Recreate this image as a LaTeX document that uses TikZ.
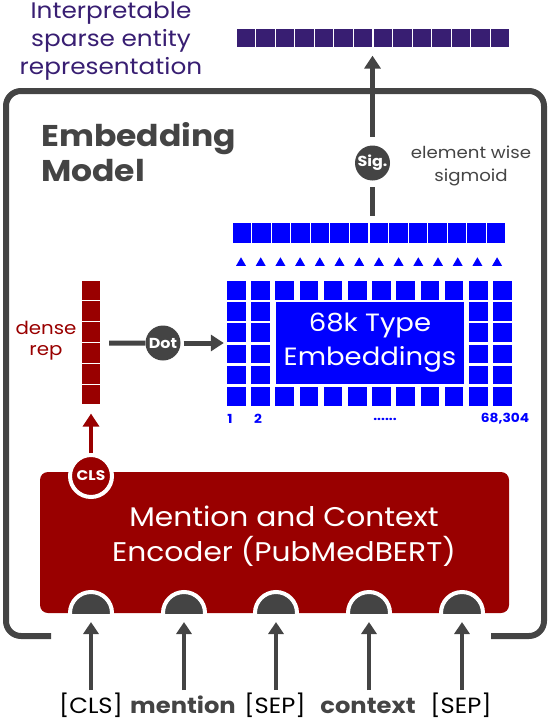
\documentclass[tikz,border=0pt]{standalone}
\usepackage{fontspec}
\setmainfont{Poppins}[FakeStretch=1.1]
\usetikzlibrary{arrows.meta,shapes.geometric}
\definecolor{epurple}{RGB}{56,30,114}
\definecolor{eblue}{RGB}{0,0,255}
\definecolor{ered}{RGB}{153,0,0}
\definecolor{egray}{RGB}{68,68,68}
\begin{document}
\begin{tikzpicture}[x=1pt,y=-1pt,
  psq/.style={fill=epurple,draw=white,line width=1.2pt,minimum width=19.57pt,minimum height=20pt,inner sep=0pt},
  bsq/.style={fill=eblue,draw=white,line width=1.2pt,minimum width=19.57pt,minimum height=21pt,inner sep=0pt},
  msq/.style={fill=eblue,minimum width=18.5pt,minimum height=18.5pt,inner sep=0pt},
  tri/.style={regular polygon,regular polygon sides=3,fill=eblue,minimum size=11.5pt,inner sep=0pt},
  dsq/.style={fill=ered,draw=white,line width=1.2pt,minimum width=19.2pt,minimum height=20.83pt,inner sep=0pt},
  gline/.style={draw=egray,line width=5pt},
  garrow/.style={gline,-{Triangle[length=13pt,width=16pt]}},
  tarrow/.style={draw=egray,line width=4.5pt,-{Triangle[length=12pt,width=15pt]}},
  rarrow/.style={draw=ered,line width=4.5pt,-{Triangle[length=13pt,width=16pt]}},
  gcirc/.style={circle,fill=egray,inner sep=0pt,text=white,font=\bfseries\fontsize{14.5}{14.5}\selectfont},
  dome/.style={circle,fill=egray,draw=white,line width=4pt,minimum size=42pt,inner sep=0pt},
  lbl/.style={text=eblue,font=\bfseries\fontsize{12.5}{12.5}\selectfont,inner sep=0pt},
  tok/.style={text=black,font=\fontsize{22}{22}\selectfont,inner sep=0pt,anchor=base},
  tokb/.style={text=egray,font=\bfseries\fontsize{22}{22}\selectfont,inner sep=0pt,anchor=base}]
\useasboundingbox (0,0) rectangle (548,720);
% outer frame
\draw[egray,line width=6pt,rounded corners=15pt] (51,636) -- (6,636) -- (6,91) -- (544,91) -- (544,636) -- (491,636);
% title
\node[text=epurple,align=center,font=\fontsize{22.5}{28}\selectfont] (title) at (111,41) {Interpretable\\sparse entity\\representation};
% purple bar
\foreach \i in {0,...,13} \node[psq] (p\i) at ({236+19.57*(\i+0.5)},38) {};
% embedding model label
\node[text=egray,anchor=north west,align=left,font=\bfseries\fontsize{30}{35}\selectfont,inner sep=0pt] (emtitle) at (41,122) {Embedding\\Model};
% sigmoid
\node[gcirc,minimum size=35pt] (sig) at (372.5,163) {Sig.};
\node[text=egray,align=center,font=\fontsize{16.5}{23}\selectfont] (sigtext) at (471,166) {element wise\\sigmoid};
% blue top row
\foreach \i in {0,...,13} \node[bsq] (b\i) at ({232+19.57*(\i+0.5)},233) {};
\foreach \i in {0,...,13} \node[tri] (tr\i) at ({241+19.7*\i},263) {};
% matrix
\foreach \k in {0,...,11}{\foreach \r in {0,...,5}{
  \pgfmathtruncatemacro\inner{(\k>1)&&(\k<10)&&(\r>0)&&(\r<5)}
  \ifnum\inner=0 \node[msq] (m\k-\r) at ({236.25+24.2*\k},{290.25+21.2*\r}) {};\fi
}}
\node[fill=eblue,minimum width=188pt,minimum height=82pt,inner sep=0pt,text=white,align=center,font=\fontsize{25}{34}\selectfont] (emb) at (370,343) {68k Type\\Embeddings};
\node[lbl] (n1) at (230,419) {1};
\node[lbl] (n2) at (258,419) {2};
\node[lbl] (n3) at (385,419) {......};
\node[lbl] (n4) at (505,419) {68,304};
% dense rep
\foreach \j in {0,...,5} \node[dsq] (d\j) at (91,{280+20.83*(\j+0.5)}) {};
\node[text=ered,align=center,font=\fontsize{18}{21}\selectfont] (dtext) at (46,341) {dense\\rep};
\node[gcirc,minimum size=35pt] (dot) at (163,343) {Dot};
\draw[gline,shorten <=8pt] (d2.south east) -- (dot.west);
\draw[garrow,shorten <=3pt,shorten >=3pt] (dot.east) -- (dot.east -| m0-2.west);
% encoder
\node[fill=ered,rounded corners=8pt,minimum width=469pt,minimum height=141pt,inner sep=0pt] (enc) at (274.5,542.5) {};
\node[text=white,align=center,font=\fontsize{27}{35}\selectfont] (enctext) at (284,536) {Mention and Context\\Encoder (PubMedBERT)};
\node[circle,fill=ered,draw=white,line width=4pt,minimum size=42pt,inner sep=0pt,text=white,font=\bfseries\fontsize{14}{14}\selectfont] (cls) at (91,476) {CLS};
\draw[rarrow,shorten >=8pt] (cls.north) -- (d5.south);
\begin{scope}
\clip (0,0) rectangle (548,613);
\node[dome] (t1) at (91,613) {};
\node[dome] (t2) at (184,613) {};
\node[dome] (t3) at (276,613) {};
\node[dome] (t4) at (369,613) {};
\node[dome] (t5) at (462,613) {};
\end{scope}
% tokens
\node[tok] (l1) at (91,713) {[CLS]};
\node[tokb] (l2) at (183,713) {mention};
\node[tok] (l3) at (275,713) {[SEP]};
\node[tokb] (l4) at (368,713) {context};
\node[tok] (l5) at (461,713) {[SEP]};
\coordinate (s1) at (91,690);
\coordinate (s2) at (184,690);
\coordinate (s3) at (276,690);
\coordinate (s4) at (369,690);
\coordinate (s5) at (462,690);
\foreach \a/\b in {s1/t1,s2/t2,s3/t3,s4/t4,s5/t5}
  \draw[tarrow,shorten >=9pt] (\a) -- (\b.center);
% vertical arrow
\draw[gline,shorten <=6pt,shorten >=6.5pt] (b6.north -| sig) -- (sig.south);
\draw[garrow,shorten <=8.5pt,shorten >=7pt] (sig.north) -- (sig.north |- p6.south);
\end{tikzpicture}
\end{document}
